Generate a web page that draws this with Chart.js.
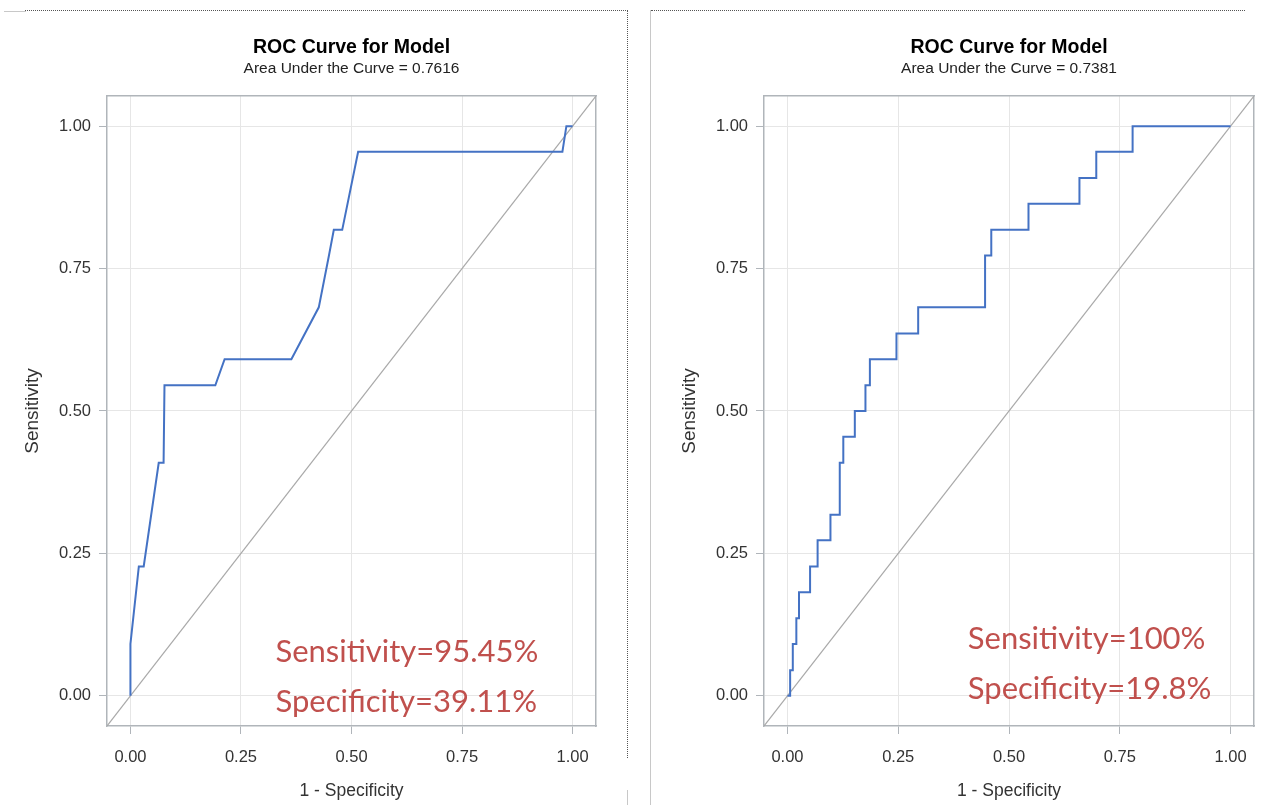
<!DOCTYPE html>
<html><head><meta charset="utf-8">
<script src="https://cdn.jsdelivr.net/npm/chart.js@4.4.1/dist/chart.umd.min.js"></script>
<style>
html,body{margin:0;padding:0;background:#fff;overflow:hidden;width:1263px;height:805px;position:relative;}
.wrap{position:absolute;top:0;height:805px;}
#w1{left:0;width:703px;}
#w2{left:657px;width:704px;}
.ln{position:absolute;}
</style></head><body>
<div class="ln" style="left:4px;top:11px;width:22px;border-top:1px solid #c8c8c8"></div>
<div class="ln" style="left:25px;top:10px;width:603px;border-top:1px dotted #555"></div>
<div class="ln" style="left:627px;top:10px;height:748px;border-left:1px dotted #555"></div>
<div class="ln" style="left:627px;top:790px;height:15px;border-left:1px solid #c8c8c8"></div>
<div class="ln" style="left:650px;top:10px;height:795px;border-left:1px solid #c8c8c8"></div>
<div class="ln" style="left:651px;top:10px;width:594px;border-top:1px dotted #555"></div>
<div class="wrap" id="w1"><canvas id="c1"></canvas></div>
<div class="wrap" id="w2"><canvas id="c2"></canvas></div>
<script>
// ---- data ----
const tickValues = [0, 0.25, 0.5, 0.75, 1];
const tickLabels = ['0.00', '0.25', '0.50', '0.75', '1.00'];
const axisMin = -0.053;
const axisMax = 1.053;

const leftFpr = [0, 0, 0.019, 0.030, 0.064, 0.075, 0.077, 0.192, 0.213, 0.364, 0.426, 0.449, 0.460, 0.479, 0.515, 0.977, 0.986, 1.0];
const leftTpr = [0, 0.091, 0.227, 0.227, 0.409, 0.409, 0.545, 0.545, 0.591, 0.591, 0.682, 0.773, 0.818, 0.818, 0.955, 0.955, 1.0, 1.0];
const leftAuc = '0.7616';
const leftStats = ['Sensitivity=95.45%', 'Specificity=39.11%'];

const rightFpr = [0, 0.006, 0.006, 0.012, 0.012, 0.020, 0.020, 0.026, 0.026, 0.051, 0.051, 0.068, 0.068, 0.097, 0.097, 0.118, 0.118, 0.126, 0.126, 0.152, 0.152, 0.176, 0.176, 0.186, 0.186, 0.246, 0.246, 0.295, 0.295, 0.446, 0.446, 0.460, 0.460, 0.544, 0.544, 0.659, 0.659, 0.697, 0.697, 0.779, 0.779, 1.0];
const rightTpr = [0, 0, 0.045, 0.045, 0.091, 0.091, 0.136, 0.136, 0.182, 0.182, 0.227, 0.227, 0.273, 0.273, 0.318, 0.318, 0.409, 0.409, 0.455, 0.455, 0.5, 0.5, 0.545, 0.545, 0.591, 0.591, 0.636, 0.636, 0.682, 0.682, 0.773, 0.773, 0.818, 0.818, 0.864, 0.864, 0.909, 0.909, 0.955, 0.955, 1.0, 1.0];
const rightAuc = '0.7381';
const rightStats = ['Sensitivity=100%', 'Specificity=19.8%'];

// ---- style ----
const SANS = '"Liberation Sans", Arial, sans-serif';
const FRAME = '#b0b5ba';
const GRID = '#e6e6e6';

const statsPlugin = {
  id: 'statsText',
  afterDatasetsDraw(chart, args, opts) {
    const {ctx} = chart;
    const xs = chart.scales.x, ys = chart.scales.y;
    ctx.save();
    ctx.font = opts.font;
    ctx.fillStyle = opts.color;
    ctx.textAlign = 'left';
    ctx.textBaseline = 'alphabetic';
    opts.lines.forEach((t, i) => {
      ctx.fillText(t, xs.getPixelForValue(opts.x), ys.getPixelForValue(opts.y[i]));
    });
    ctx.restore();
  }
};

function setTicks(scale) {
  scale.ticks = tickValues.map(v => ({value: v}));
}

function makeChart(id, fpr, tpr, auc, stats, statPos) {
  const pts = fpr.map((x, i) => ({x: x, y: tpr[i]}));
  return new Chart(document.getElementById(id), {
    type: 'line',
    data: {
      datasets: [
        {data: pts, borderColor: '#4472c4', borderWidth: 2, pointRadius: 0, tension: 0, fill: false},
        {data: [{x: axisMin, y: axisMin}, {x: axisMax, y: axisMax}], borderColor: '#a9a9a9', borderWidth: 1.2, pointRadius: 0, fill: false}
      ]
    },
    options: {
      responsive: true, maintainAspectRatio: false, animation: false,
      layout: {padding: 0},
      plugins: {
        legend: {display: false},
        tooltip: {enabled: false},
        title: {display: true, text: 'ROC Curve for Model', color: '#000',
          font: {family: SANS, size: 19.5, weight: 'bold', lineHeight: 1}, padding: {top: 37.7, bottom: 0}},
        subtitle: {display: true, text: 'Area Under the Curve = ' + auc, color: '#222',
          font: {family: SANS, size: 15.5, lineHeight: 1}, padding: {top: 3.9, bottom: 19.4}},
        statsText: {lines: stats, x: statPos.x, y: statPos.y, color: '#c0504d',
          font: '31px Lato, "Open Sans", sans-serif'}
      },
      scales: {
        x: {type: 'linear', position: 'bottom', min: axisMin, max: axisMax,
          afterBuildTicks: setTicks, afterFit: s => { s.height = 79; },
          grid: {color: GRID, tickColor: FRAME, tickLength: 8, lineWidth: 1},
          border: {color: FRAME, width: 1.5},
          ticks: {autoSkip: false, maxRotation: 0, padding: 13.5, color: '#333',
            font: {family: SANS, size: 16.5},
            callback: v => tickLabels[tickValues.indexOf(v)]},
          title: {display: true, text: '1 - Specificity', color: '#333',
            font: {family: SANS, size: 17.5}, padding: {top: 0, bottom: 3}}},
        y: {type: 'linear', position: 'left', min: axisMin, max: axisMax,
          afterBuildTicks: setTicks, afterFit: s => { s.width = 107; },
          grid: {color: GRID, tickColor: FRAME, tickLength: 8, lineWidth: 1},
          border: {color: FRAME, width: 1.5},
          ticks: {autoSkip: false, padding: 8, color: '#333',
            font: {family: SANS, size: 16.5},
            callback: v => tickLabels[tickValues.indexOf(v)]},
          title: {display: true, text: 'Sensitivity', color: '#333',
            font: {family: SANS, size: 19}, padding: {top: 21, bottom: 0}}},
        x2: {type: 'linear', position: 'top', min: axisMin, max: axisMax,
          afterFit: s => { s.height = 0; },
          grid: {display: false}, ticks: {display: false},
          border: {display: true, color: FRAME, width: 1.5}},
        y2: {type: 'linear', position: 'right', min: axisMin, max: axisMax,
          afterFit: s => { s.width = 107; },
          grid: {display: false}, ticks: {display: false},
          border: {display: true, color: FRAME, width: 1.5}}
      }
    },
    plugins: [statsPlugin]
  });
}

makeChart('c1', leftFpr, leftTpr, leftAuc, leftStats, {x: 0.328, y: [0.0586, -0.029]});
makeChart('c2', rightFpr, rightTpr, rightAuc, rightStats, {x: 0.407, y: [0.083, -0.005]});
</script>
</body></html>
